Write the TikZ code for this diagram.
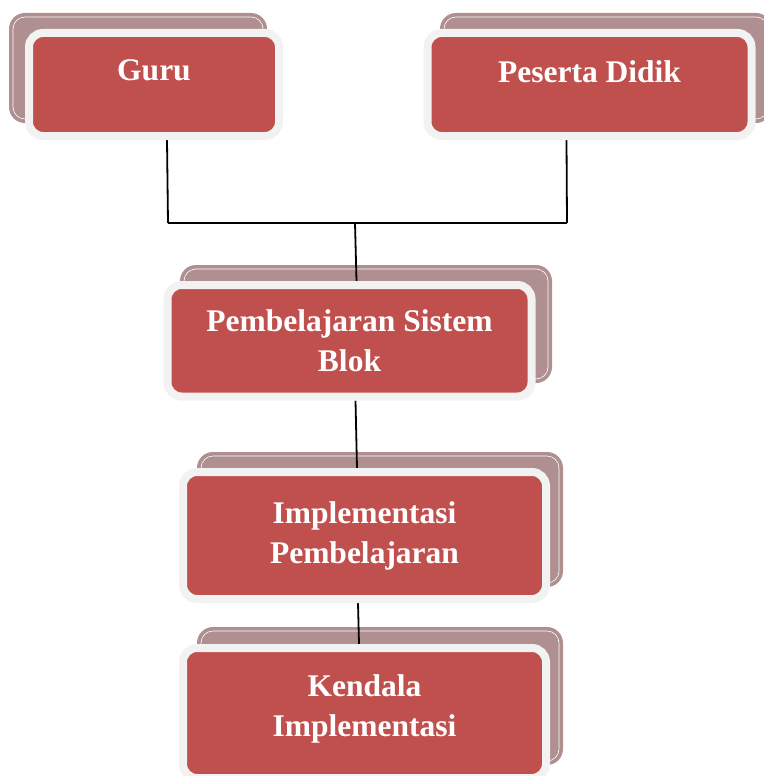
\documentclass[tikz,border=0pt]{standalone}
\usepackage{fontspec}
\setmainfont{Liberation Serif}
\definecolor{boxred}{HTML}{C0504D}
\definecolor{rim}{HTML}{F2F2F2}
\definecolor{shade}{HTML}{AF8F8F}
\pgfdeclarelayer{shadowlayer}
\pgfdeclarelayer{linelayer}
\pgfsetlayers{shadowlayer,linelayer,main}
\begin{document}
\begin{tikzpicture}[x=1pt,y=-1pt,
  front/.style={rectangle, draw=rim, line width=8pt, fill=boxred, rounded corners=14pt,
    text=white, font=\bfseries\fontsize{31.5}{40}\selectfont, align=center, inner sep=0pt},
  shadowbox/.style={fill=shade, rounded corners=16pt},
  shadowline/.style={draw=white, line width=0.6pt, rounded corners=12pt},
  link/.style={draw=black, line width=1.8pt}]
\useasboundingbox (0,0) rectangle (763,776);
\clip (0,0) rectangle (763,776);

% front boxes
\node[front, minimum width=250pt, minimum height=103pt, text height=21pt, text depth=29.4pt] (guru) at (154,84.5) {Guru};
\node[front, minimum width=324pt, minimum height=103pt, text height=21pt, text depth=25.4pt] (peserta) at (589.5,84.5) {Peserta Didik};
\node[front, minimum width=364pt, minimum height=111.5pt] (pemb) at (349.5,340.75) {Pembelajaran Sistem\\Blok};
\node[front, minimum width=363pt, minimum height=127pt] (impl) at (364.5,535.5) {Implementasi\\Pembelajaran};
\node[front, minimum width=363pt, minimum height=130pt, text depth=15pt] (kend) at (364.5,713) {Kendala\\Implementasi};

% shadows
\begin{pgfonlayer}{shadowlayer}
  \fill[shadowbox] (9,13) rectangle (267,123);
  \draw[shadowline] (13,17) rectangle (263,119);
  \fill[shadowbox] (440,13) rectangle (772,123);
  \draw[shadowline] (444,17) rectangle (768,119);
  \fill[shadowbox] (180,265) rectangle (552,383);
  \draw[shadowline] (184,269) rectangle (548,379);
  \fill[shadowbox] (197,452) rectangle (563,587);
  \draw[shadowline] (201,456) rectangle (559,583);
  \fill[shadowbox] (197,627) rectangle (563,765);
  \draw[shadowline] (201,631) rectangle (559,761);
\end{pgfonlayer}

% connectors
\coordinate (j1) at (168,223);
\coordinate (j2) at (567,223);
\coordinate (jm) at (355,223);
\begin{pgfonlayer}{linelayer}
  \draw[link] ([xshift=13pt]guru.south) -- (j1);
  \draw[link] ([xshift=-23pt]peserta.south) -- (j2);
  \draw[link] (j1) -- (j2);
  \draw[link] (jm) -- ([xshift=7pt]pemb.north);
  \draw[link] ([xshift=6pt]pemb.south) -- ([xshift=-7.5pt]impl.north);
  \draw[link] ([xshift=-6.5pt]impl.south) -- ([xshift=-5.5pt]kend.north);
\end{pgfonlayer}
\end{tikzpicture}
\end{document}
